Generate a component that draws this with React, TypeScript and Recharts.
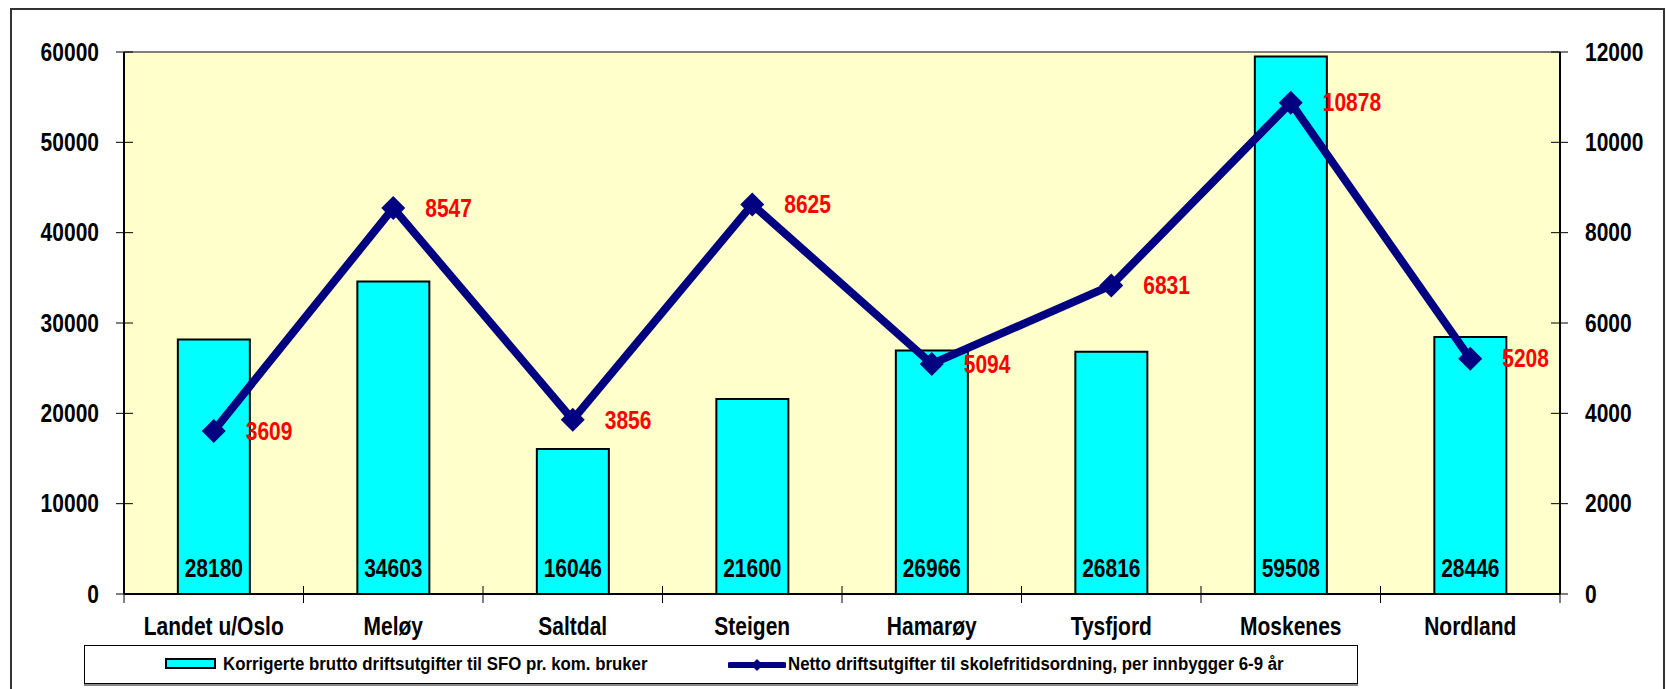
import React from 'react';
import { ComposedChart, Bar, Line, XAxis, YAxis, LabelList, CartesianGrid, ReferenceLine } from 'recharts';

const CATEGORIES = ['Landet u/Oslo', 'Meløy', 'Saltdal', 'Steigen', 'Hamarøy', 'Tysfjord', 'Moskenes', 'Nordland'];
const BRUTTO = [28180, 34603, 16046, 21600, 26966, 26816, 59508, 28446];
const NETTO = [3609, 8547, 3856, 8625, 5094, 6831, 10878, 5208];
const LEFT_TICKS = [0, 10000, 20000, 30000, 40000, 50000, 60000];
const RIGHT_TICKS = [0, 2000, 4000, 6000, 8000, 10000, 12000];
const BRUTTO_NAME = 'Korrigerte brutto driftsutgifter til SFO pr. kom. bruker';
const NETTO_NAME = 'Netto driftsutgifter til skolefritidsordning, per innbygger 6-9 år';

const W = 1667;
const H = 689;
const LEFT_W = 124;
const RIGHT_W = 107;
const TOP = 52;
const X_AXIS_H = 40;
const BOTTOM = H - 594 - X_AXIS_H;
const BAND = (W - LEFT_W - RIGHT_W) / CATEGORIES.length;

// no narrow font installed, so squeeze Liberation Sans horizontally
const FONT = "'Liberation Sans', Arial, sans-serif";
const SQUEEZE = 0.84;
const NAVY = '#000080';

const data = CATEGORIES.map((name, i) => ({ name, brutto: BRUTTO[i], netto: NETTO[i] }));

const NText = ({ x, y, anchor, fill = '#000', children }: any) => (
  <text
    transform={`translate(${x},${y}) scale(${SQUEEZE},1)`}
    x={0}
    y={0}
    textAnchor={anchor}
    dominantBaseline="central"
    fontFamily={FONT}
    fontWeight="bold"
    fontSize={25}
    fill={fill}
  >
    {children}
  </text>
);

const LeftTick = (props: any) => {
  const { x, y, payload } = props;
  return (
    <g>
      <line x1={x - 8} x2={x + 9} y1={y} y2={y} stroke="#000" strokeWidth={1} />
      <NText x={x - 25} y={y} anchor="end">{payload.value}</NText>
    </g>
  );
};

const RightTick = (props: any) => {
  const { x, y, payload } = props;
  return (
    <g>
      <line x1={x - 9} x2={x + 8} y1={y} y2={y} stroke="#000" strokeWidth={1} />
      <NText x={x + 25} y={y} anchor="start">{payload.value}</NText>
    </g>
  );
};

const CatTick = (props: any) => {
  const { x, y, payload, index } = props;
  const left = x - BAND / 2;
  return (
    <g>
      <line x1={left} x2={left} y1={y - 8} y2={y + 9} stroke="#000" strokeWidth={1} />
      {index === CATEGORIES.length - 1 && (
        <line x1={x + BAND / 2} x2={x + BAND / 2} y1={y - 8} y2={y + 9} stroke="#000" strokeWidth={1} />
      )}
      <NText x={x} y={y + 32} anchor="middle">{payload.value}</NText>
    </g>
  );
};

const Diamond = (props: any) => {
  const { cx, cy, index } = props;
  if (cx == null || cy == null) return <g key={`d${index}`} />;
  const r = 12;
  return (
    <path key={`d${index}`} d={`M${cx},${cy - r}L${cx + r},${cy}L${cx},${cy + r}L${cx - r},${cy}Z`} fill={NAVY} />
  );
};

const bruttoLabel = (props: any) => {
  const { x, y, width, height, value } = props;
  return <NText x={x + width / 2} y={y + height - 26} anchor="middle">{value}</NText>;
};

const nettoLabel = (props: any) => {
  const { x, y, value } = props;
  return <NText x={x + 32} y={y} anchor="start" fill="#FF0000">{value}</NText>;
};

const legendText: React.CSSProperties = {
  position: 'absolute', top: 0, lineHeight: '37px', whiteSpace: 'nowrap',
  transform: 'scaleX(0.935)', transformOrigin: 'left center',
};

export default function App() {
  return (
    <div style={{ position: 'absolute', left: 0, top: 0, width: W, height: H, background: '#fff', overflow: 'hidden' }}>
      <div
        style={{
          position: 'absolute', left: 10, top: 8, width: 1655, height: 690,
          boxSizing: 'border-box', border: '2px solid #333', borderBottom: 'none',
        }}
      />
      <ComposedChart
        width={W}
        height={H}
        data={data}
        barCategoryGap="30%"
        margin={{ top: TOP, right: 0, left: 0, bottom: BOTTOM }}
        style={{ position: 'absolute', left: 0, top: 0 }}
      >
        <CartesianGrid fill="#FFFFCC" horizontal={false} vertical={false} />
        <XAxis
          dataKey="name"
          height={X_AXIS_H}
          axisLine={{ stroke: '#000', strokeWidth: 2 }}
          tickLine={false}
          tickSize={0}
          tickMargin={0}
          interval={0}
          tick={(p: any) => <CatTick {...p} />}
        />
        <YAxis
          width={LEFT_W}
          domain={[0, 60000]}
          ticks={LEFT_TICKS}
          interval={0}
          axisLine={{ stroke: '#000', strokeWidth: 2 }}
          tickLine={false}
          tickSize={0}
          tickMargin={0}
          tick={(p: any) => <LeftTick {...p} />}
        />
        <YAxis
          yAxisId="right"
          orientation="right"
          width={RIGHT_W}
          domain={[0, 12000]}
          ticks={RIGHT_TICKS}
          interval={0}
          axisLine={{ stroke: '#000', strokeWidth: 2 }}
          tickLine={false}
          tickSize={0}
          tickMargin={0}
          tick={(p: any) => <RightTick {...p} />}
        />
        <ReferenceLine y={60000} stroke="#808080" strokeWidth={2} />
        <Bar dataKey="brutto" name={BRUTTO_NAME} fill="#00FFFF" stroke="#000" strokeWidth={2} isAnimationActive={false}>
          <LabelList dataKey="brutto" content={bruttoLabel} />
        </Bar>
        <Line
          yAxisId="right"
          dataKey="netto"
          name={NETTO_NAME}
          type="linear"
          stroke={NAVY}
          strokeWidth={8}
          dot={Diamond}
          activeDot={false}
          isAnimationActive={false}
        >
          <LabelList dataKey="netto" content={nettoLabel} />
        </Line>
      </ComposedChart>
      <div
        style={{
          position: 'absolute', left: 84, top: 645, width: 1274, height: 39,
          boxSizing: 'border-box', border: '1px solid #000', background: '#fff',
          boxShadow: '0 2px 0 #888', fontFamily: FONT, fontWeight: 'bold', fontSize: 18,
        }}
      >
        <div
          style={{
            position: 'absolute', left: 80, top: 12, width: 51, height: 11,
            boxSizing: 'border-box', border: '2px solid #000', background: '#00FFFF',
          }}
        />
        <span style={{ ...legendText, left: 138 }}>{BRUTTO_NAME}</span>
        <svg style={{ position: 'absolute', left: 643, top: 8 }} width={58} height={22}>
          <line x1={2} x2={56} y1={11} y2={11} stroke={NAVY} strokeWidth={6} strokeLinecap="round" />
          <path d="M29,5L35,11L29,17L23,11Z" fill={NAVY} />
        </svg>
        <span style={{ ...legendText, left: 703 }}>{NETTO_NAME}</span>
      </div>
    </div>
  );
}
